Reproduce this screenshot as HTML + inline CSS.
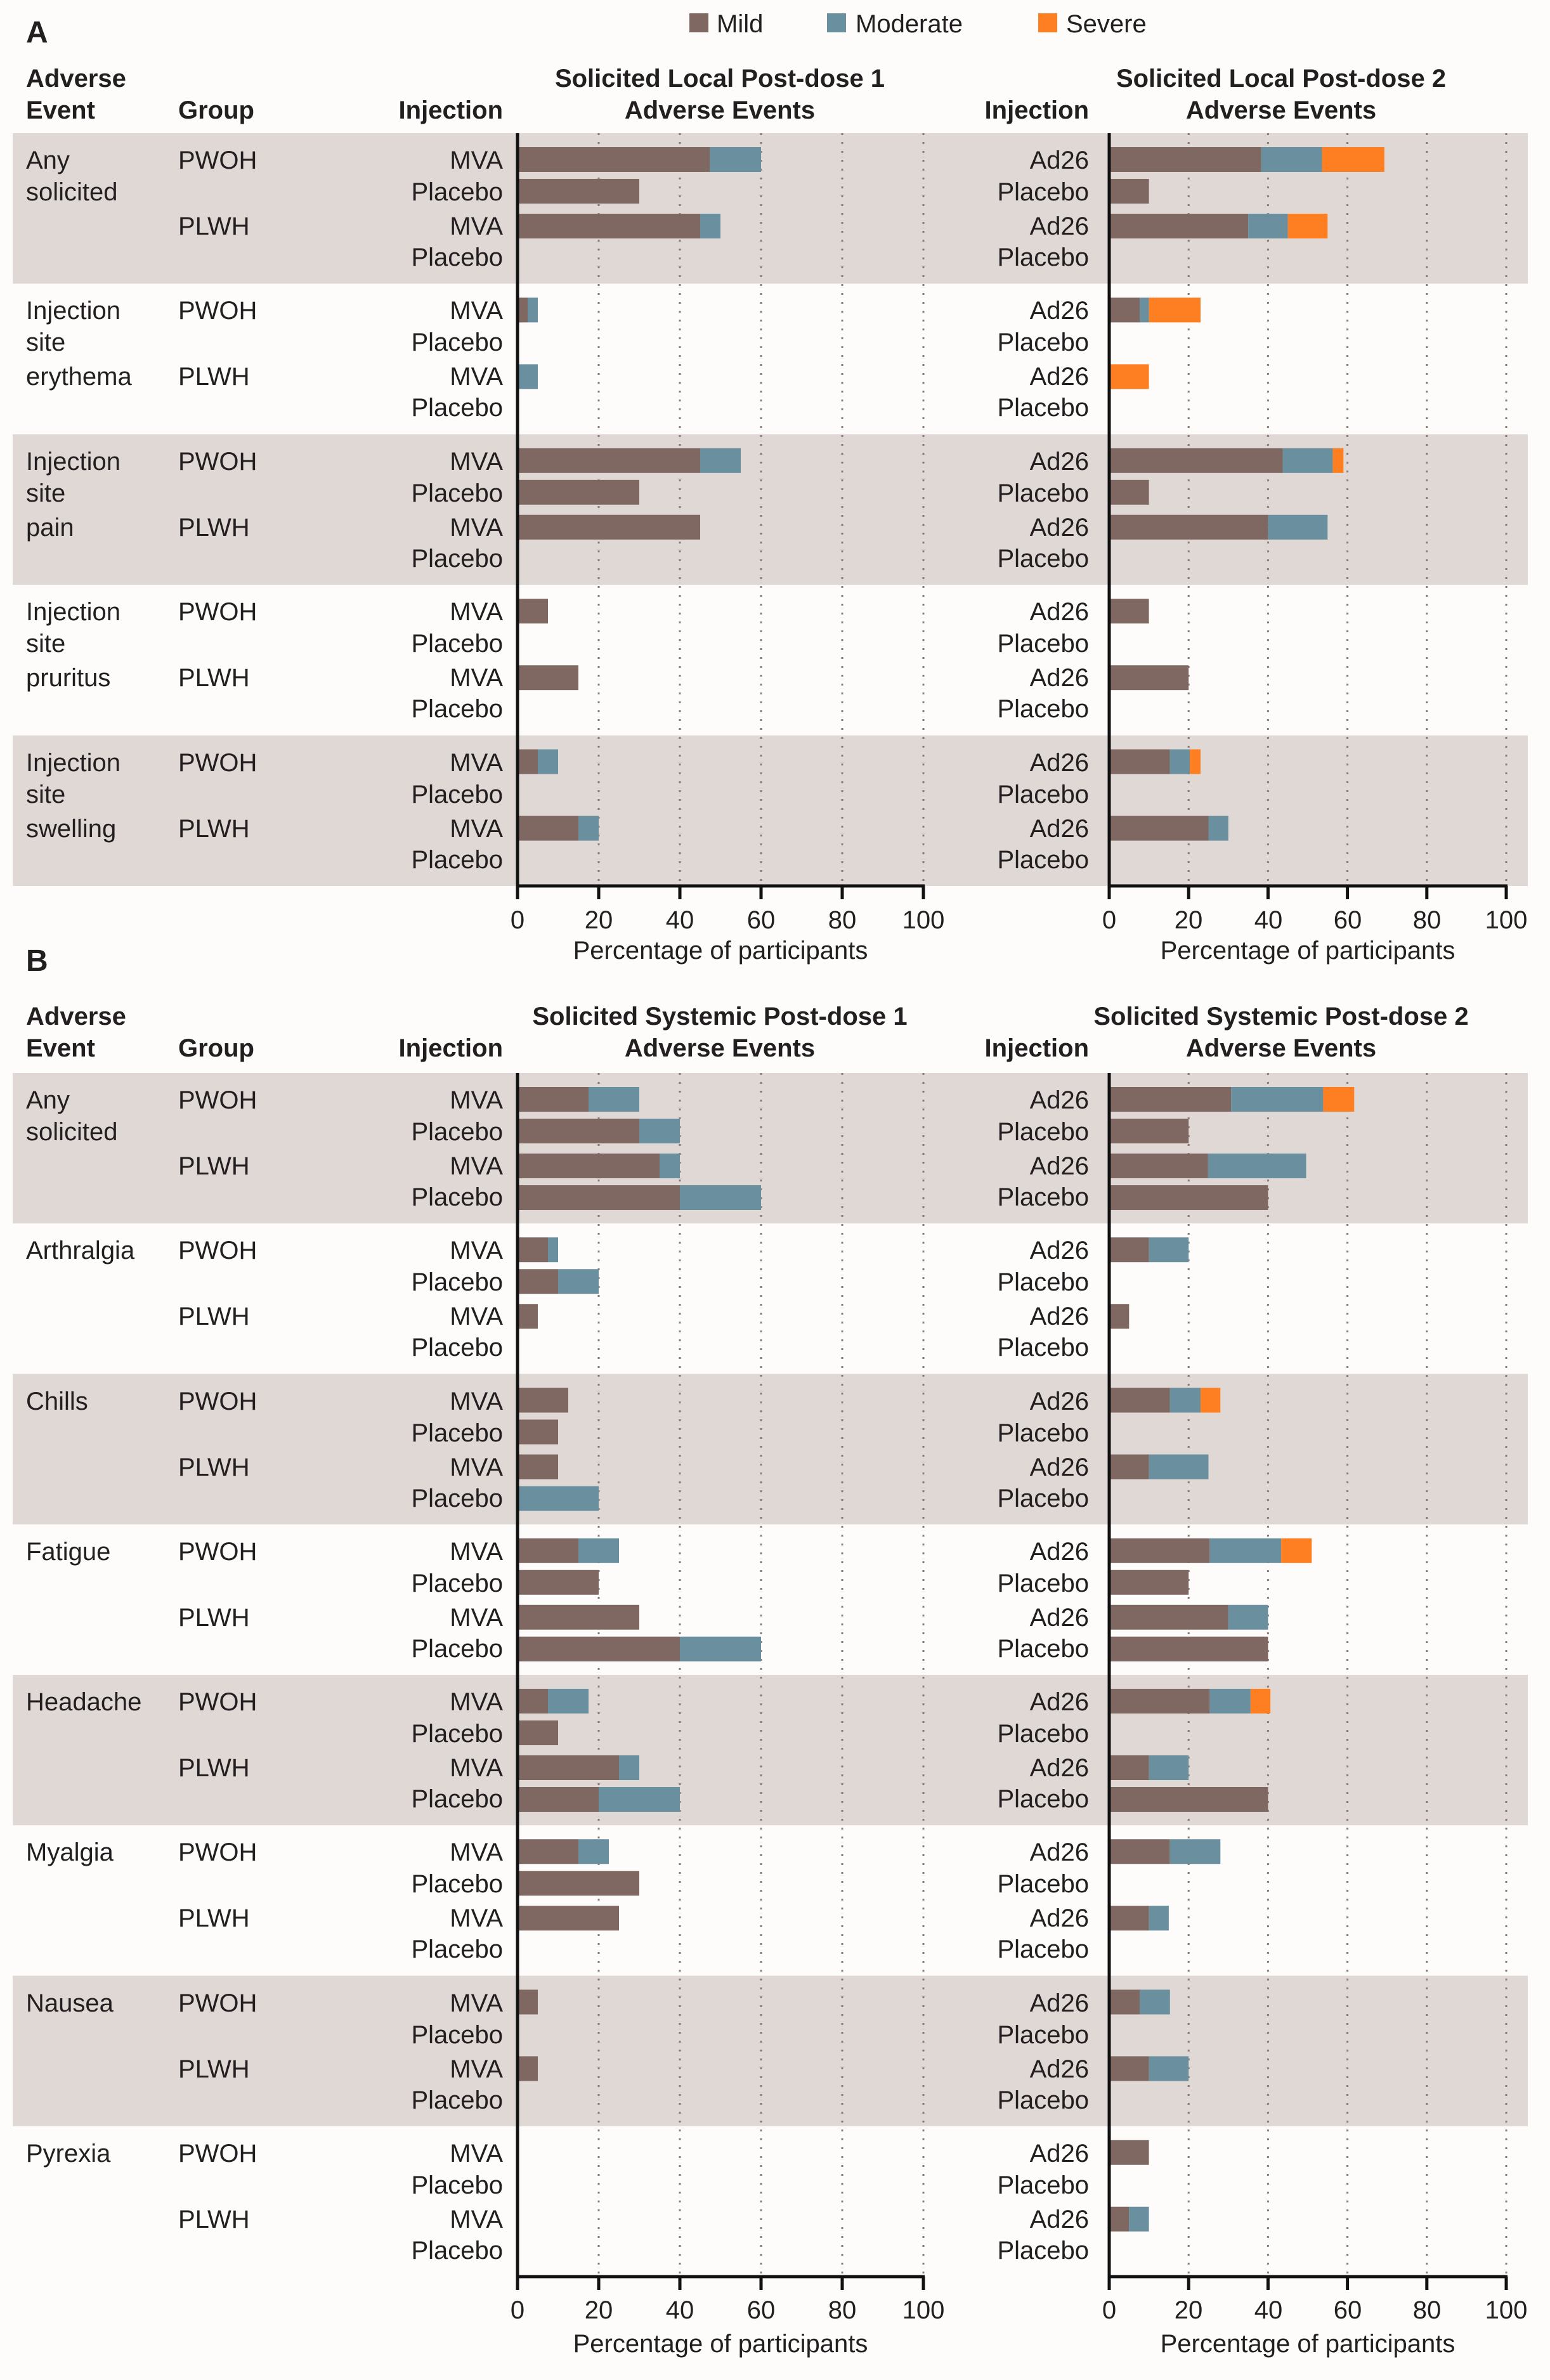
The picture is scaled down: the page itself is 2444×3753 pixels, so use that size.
<!DOCTYPE html>
<html><head><meta charset="utf-8"><style>
html,body{margin:0;padding:0;background:#fdfcfb;}
svg{display:block;}
text{font-family:"Liberation Sans",Arial,sans-serif;font-size:40px;fill:#231f20;}
.b{font-weight:bold;}
.e{text-anchor:end;}
.m{text-anchor:middle;}
</style></head><body>
<svg id="s" width="2444" height="3753" viewBox="0 0 2444 3753" xmlns="http://www.w3.org/2000/svg">
<rect width="2444" height="3753" fill="#fdfcfb"/>
<g id="bg"></g>
<g id="bars"></g>
<!-- Legend -->
<rect x="1087" y="21" width="30" height="30" fill="#7f6862"/><text x="1130" y="51">Mild</text>
<rect x="1304" y="21" width="30" height="30" fill="#6a8f9f"/><text x="1349" y="51">Moderate</text>
<rect x="1637" y="21" width="30" height="30" fill="#fd7f22"/><text x="1681" y="51">Severe</text>
<text x="41" y="67" class="b" style="font-size:48px">A</text>
<text x="41" y="1531" class="b" style="font-size:48px">B</text>
<!-- Headers A -->
<text x="41" y="137" class="b">Adverse</text><text x="41" y="187" class="b">Event</text>
<text x="281" y="187" class="b">Group</text><text x="793" y="187" class="b e">Injection</text>
<text x="1135" y="137" class="b m">Solicited Local Post-dose 1</text><text x="1135" y="187" class="b m">Adverse Events</text>
<text x="1717" y="187" class="b e">Injection</text>
<text x="2020" y="137" class="b m">Solicited Local Post-dose 2</text><text x="2020" y="187" class="b m">Adverse Events</text>
<!-- Headers B -->
<text x="41" y="1616" class="b">Adverse</text><text x="41" y="1666" class="b">Event</text>
<text x="281" y="1666" class="b">Group</text><text x="793" y="1666" class="b e">Injection</text>
<text x="1135" y="1616" class="b m">Solicited Systemic Post-dose 1</text><text x="1135" y="1666" class="b m">Adverse Events</text>
<text x="1717" y="1666" class="b e">Injection</text>
<text x="2020" y="1616" class="b m">Solicited Systemic Post-dose 2</text><text x="2020" y="1666" class="b m">Adverse Events</text>

<!-- Panel A labels -->
<text x="41" y="266">Any</text><text x="41" y="316">solicited</text>
<text x="41" y="503">Injection</text><text x="41" y="553">site</text><text x="41" y="607">erythema</text>
<text x="41" y="741">Injection</text><text x="41" y="791">site</text><text x="41" y="845">pain</text>
<text x="41" y="978">Injection</text><text x="41" y="1028">site</text><text x="41" y="1082">pruritus</text>
<text x="41" y="1216">Injection</text><text x="41" y="1266">site</text><text x="41" y="1320">swelling</text>

<text x="281" y="266">PWOH</text><text x="281" y="370">PLWH</text>
<text x="281" y="503">PWOH</text><text x="281" y="607">PLWH</text>
<text x="281" y="741">PWOH</text><text x="281" y="845">PLWH</text>
<text x="281" y="978">PWOH</text><text x="281" y="1082">PLWH</text>
<text x="281" y="1216">PWOH</text><text x="281" y="1320">PLWH</text>

<g class="e">
<text x="793" y="266" class="e">MVA</text><text x="793" y="316" class="e">Placebo</text><text x="793" y="370" class="e">MVA</text><text x="793" y="419" class="e">Placebo</text>
<text x="793" y="503" class="e">MVA</text><text x="793" y="553" class="e">Placebo</text><text x="793" y="607" class="e">MVA</text><text x="793" y="656" class="e">Placebo</text>
<text x="793" y="741" class="e">MVA</text><text x="793" y="791" class="e">Placebo</text><text x="793" y="845" class="e">MVA</text><text x="793" y="894" class="e">Placebo</text>
<text x="793" y="978" class="e">MVA</text><text x="793" y="1028" class="e">Placebo</text><text x="793" y="1082" class="e">MVA</text><text x="793" y="1131" class="e">Placebo</text>
<text x="793" y="1216" class="e">MVA</text><text x="793" y="1266" class="e">Placebo</text><text x="793" y="1320" class="e">MVA</text><text x="793" y="1369" class="e">Placebo</text>

<text x="1717" y="266" class="e">Ad26</text><text x="1717" y="316" class="e">Placebo</text><text x="1717" y="370" class="e">Ad26</text><text x="1717" y="419" class="e">Placebo</text>
<text x="1717" y="503" class="e">Ad26</text><text x="1717" y="553" class="e">Placebo</text><text x="1717" y="607" class="e">Ad26</text><text x="1717" y="656" class="e">Placebo</text>
<text x="1717" y="741" class="e">Ad26</text><text x="1717" y="791" class="e">Placebo</text><text x="1717" y="845" class="e">Ad26</text><text x="1717" y="894" class="e">Placebo</text>
<text x="1717" y="978" class="e">Ad26</text><text x="1717" y="1028" class="e">Placebo</text><text x="1717" y="1082" class="e">Ad26</text><text x="1717" y="1131" class="e">Placebo</text>
<text x="1717" y="1216" class="e">Ad26</text><text x="1717" y="1266" class="e">Placebo</text><text x="1717" y="1320" class="e">Ad26</text><text x="1717" y="1369" class="e">Placebo</text>
</g>

<!-- Panel B labels -->
<text x="41" y="1748">Any</text><text x="41" y="1798">solicited</text>
<text x="41" y="1985">Arthralgia</text>
<text x="41" y="2223">Chills</text>
<text x="41" y="2460">Fatigue</text>
<text x="41" y="2697">Headache</text>
<text x="41" y="2934">Myalgia</text>
<text x="41" y="3172">Nausea</text>
<text x="41" y="3409">Pyrexia</text>

<text x="281" y="1748">PWOH</text><text x="281" y="1852">PLWH</text>
<text x="281" y="1985">PWOH</text><text x="281" y="2089">PLWH</text>
<text x="281" y="2223">PWOH</text><text x="281" y="2327">PLWH</text>
<text x="281" y="2460">PWOH</text><text x="281" y="2564">PLWH</text>
<text x="281" y="2697">PWOH</text><text x="281" y="2801">PLWH</text>
<text x="281" y="2934">PWOH</text><text x="281" y="3038">PLWH</text>
<text x="281" y="3172">PWOH</text><text x="281" y="3276">PLWH</text>
<text x="281" y="3409">PWOH</text><text x="281" y="3513">PLWH</text>

<text x="793" y="1748" class="e">MVA</text><text x="793" y="1798" class="e">Placebo</text><text x="793" y="1852" class="e">MVA</text><text x="793" y="1901" class="e">Placebo</text>
<text x="793" y="1985" class="e">MVA</text><text x="793" y="2035" class="e">Placebo</text><text x="793" y="2089" class="e">MVA</text><text x="793" y="2138" class="e">Placebo</text>
<text x="793" y="2223" class="e">MVA</text><text x="793" y="2273" class="e">Placebo</text><text x="793" y="2327" class="e">MVA</text><text x="793" y="2376" class="e">Placebo</text>
<text x="793" y="2460" class="e">MVA</text><text x="793" y="2510" class="e">Placebo</text><text x="793" y="2564" class="e">MVA</text><text x="793" y="2613" class="e">Placebo</text>
<text x="793" y="2697" class="e">MVA</text><text x="793" y="2747" class="e">Placebo</text><text x="793" y="2801" class="e">MVA</text><text x="793" y="2850" class="e">Placebo</text>
<text x="793" y="2934" class="e">MVA</text><text x="793" y="2984" class="e">Placebo</text><text x="793" y="3038" class="e">MVA</text><text x="793" y="3087" class="e">Placebo</text>
<text x="793" y="3172" class="e">MVA</text><text x="793" y="3222" class="e">Placebo</text><text x="793" y="3276" class="e">MVA</text><text x="793" y="3325" class="e">Placebo</text>
<text x="793" y="3409" class="e">MVA</text><text x="793" y="3459" class="e">Placebo</text><text x="793" y="3513" class="e">MVA</text><text x="793" y="3562" class="e">Placebo</text>

<text x="1717" y="1748" class="e">Ad26</text><text x="1717" y="1798" class="e">Placebo</text><text x="1717" y="1852" class="e">Ad26</text><text x="1717" y="1901" class="e">Placebo</text>
<text x="1717" y="1985" class="e">Ad26</text><text x="1717" y="2035" class="e">Placebo</text><text x="1717" y="2089" class="e">Ad26</text><text x="1717" y="2138" class="e">Placebo</text>
<text x="1717" y="2223" class="e">Ad26</text><text x="1717" y="2273" class="e">Placebo</text><text x="1717" y="2327" class="e">Ad26</text><text x="1717" y="2376" class="e">Placebo</text>
<text x="1717" y="2460" class="e">Ad26</text><text x="1717" y="2510" class="e">Placebo</text><text x="1717" y="2564" class="e">Ad26</text><text x="1717" y="2613" class="e">Placebo</text>
<text x="1717" y="2697" class="e">Ad26</text><text x="1717" y="2747" class="e">Placebo</text><text x="1717" y="2801" class="e">Ad26</text><text x="1717" y="2850" class="e">Placebo</text>
<text x="1717" y="2934" class="e">Ad26</text><text x="1717" y="2984" class="e">Placebo</text><text x="1717" y="3038" class="e">Ad26</text><text x="1717" y="3087" class="e">Placebo</text>
<text x="1717" y="3172" class="e">Ad26</text><text x="1717" y="3222" class="e">Placebo</text><text x="1717" y="3276" class="e">Ad26</text><text x="1717" y="3325" class="e">Placebo</text>
<text x="1717" y="3409" class="e">Ad26</text><text x="1717" y="3459" class="e">Placebo</text><text x="1717" y="3513" class="e">Ad26</text><text x="1717" y="3562" class="e">Placebo</text>

<!-- Tick labels A -->
<g class="m">
<text x="816" y="1464" class="m">0</text><text x="944" y="1464" class="m">20</text><text x="1072" y="1464" class="m">40</text><text x="1200" y="1464" class="m">60</text><text x="1328" y="1464" class="m">80</text><text x="1456" y="1464" class="m">100</text>
<text x="1749" y="1464" class="m">0</text><text x="1874" y="1464" class="m">20</text><text x="2000" y="1464" class="m">40</text><text x="2125" y="1464" class="m">60</text><text x="2250" y="1464" class="m">80</text><text x="2375" y="1464" class="m">100</text>
<text x="1136" y="1512" class="m">Percentage of participants</text>
<text x="2062" y="1512" class="m">Percentage of participants</text>
<text x="816" y="3656" class="m">0</text><text x="944" y="3656" class="m">20</text><text x="1072" y="3656" class="m">40</text><text x="1200" y="3656" class="m">60</text><text x="1328" y="3656" class="m">80</text><text x="1456" y="3656" class="m">100</text>
<text x="1749" y="3656" class="m">0</text><text x="1874" y="3656" class="m">20</text><text x="2000" y="3656" class="m">40</text><text x="2125" y="3656" class="m">60</text><text x="2250" y="3656" class="m">80</text><text x="2375" y="3656" class="m">100</text>
<text x="1136" y="3709" class="m">Percentage of participants</text>
<text x="2062" y="3709" class="m">Percentage of participants</text>
</g>
</svg>
<script>
(function(){
var NS="http://www.w3.org/2000/svg";
var bg=document.getElementById("bg"),bars=document.getElementById("bars");
function el(p,t,a){var e=document.createElementNS(NS,t);for(var k in a)e.setAttribute(k,a[k]);p.appendChild(e);return e;}
var C=["#7f6862","#6a8f9f","#fd7f22"];
var L={x0:816,w:640},R={x0:1749,w:626};
var offs=[22,72,127,177];
function panel(top,gh,n,axisY,dataL,dataR){
  for(var i=0;i<n;i++){ if(i%2==0) el(bg,"rect",{x:20,y:top+i*gh,width:2389,height:gh,fill:"#e0d8d5"}); }
  [L,R].forEach(function(P,pi){
    for(var k=1;k<=5;k++){var x=P.x0+P.w*k/5;
      el(bg,"line",{x1:x,y1:top,x2:x,y2:axisY,stroke:"#8a7a76","stroke-width":3,"stroke-dasharray":"3 11"});}
    var data=pi==0?dataL:dataR;
    for(var i=0;i<n;i++)for(var r=0;r<4;r++){
      var v=data[i][r];if(!v)continue;var prev=0;
      for(var c=0;c<3;c++){ if(v[c]==null)continue; var cum=v[c];
        if(cum>prev){el(bars,"rect",{x:P.x0+P.w*prev/100,y:top+i*gh+offs[r],width:P.w*(cum-prev)/100,height:39,fill:C[c]});prev=cum;}
      }
    }
    el(bars,"line",{x1:P.x0,y1:top,x2:P.x0,y2:axisY+21,stroke:"#111",'stroke-width':5});
    el(bars,"line",{x1:P.x0-2,y1:axisY,x2:P.x0+P.w+2,y2:axisY,stroke:"#111",'stroke-width':5});
    for(var k=1;k<=5;k++){var x=P.x0+P.w*k/5;el(bars,"line",{x1:x,y1:axisY,x2:x,y2:axisY+21,stroke:"#111",'stroke-width':5});}
  });
}
// cumulative [mild, mild+mod, mild+mod+sev]
var AL=[
 [[47.4,60],[30],[45,50],null],
 [[2.5,5],null,[0,5],null],
 [[45,55],[30],[45],null],
 [[7.5],null,[15],null],
 [[5,10],null,[15,20],null]];
var AR=[
 [[38.3,53.6,69.3],[10],[35,45,55],null],
 [[7.7,10,23],null,[0,0,10],null],
 [[43.7,56.3,59],[10],[40,55],null],
 [[10],null,[20],null],
 [[15.3,20.3,23],null,[25,30],null]];
var BL=[
 [[17.5,30],[30,40],[35,40],[40,60]],
 [[7.5,10],[10,20],[5],null],
 [[12.5],[10],[10],[0,20]],
 [[15,25],[20],[30],[40,60]],
 [[7.5,17.5],[10],[25,30],[20,40]],
 [[15,22.5],[30],[25],null],
 [[5],null,[5],null],
 [null,null,null,null]];
var BR=[
 [[30.7,53.9,61.7],[20],[24.9,49.6],[40]],
 [[10,20],null,[5],null],
 [[15.3,23,28],null,[10,25],null],
 [[25.3,43.3,51],[20],[30,40],[40]],
 [[25.3,35.6,40.6],null,[10,20],[40]],
 [[15.3,28],null,[10,15],null],
 [[7.7,15.3],null,[10,20],null],
 [[10],null,[5,10],null]];
panel(210,237.4,5,1397,AL,AR);
panel(1692,237.25,8,3590,BL,BR);
})();
</script>
</body></html>
